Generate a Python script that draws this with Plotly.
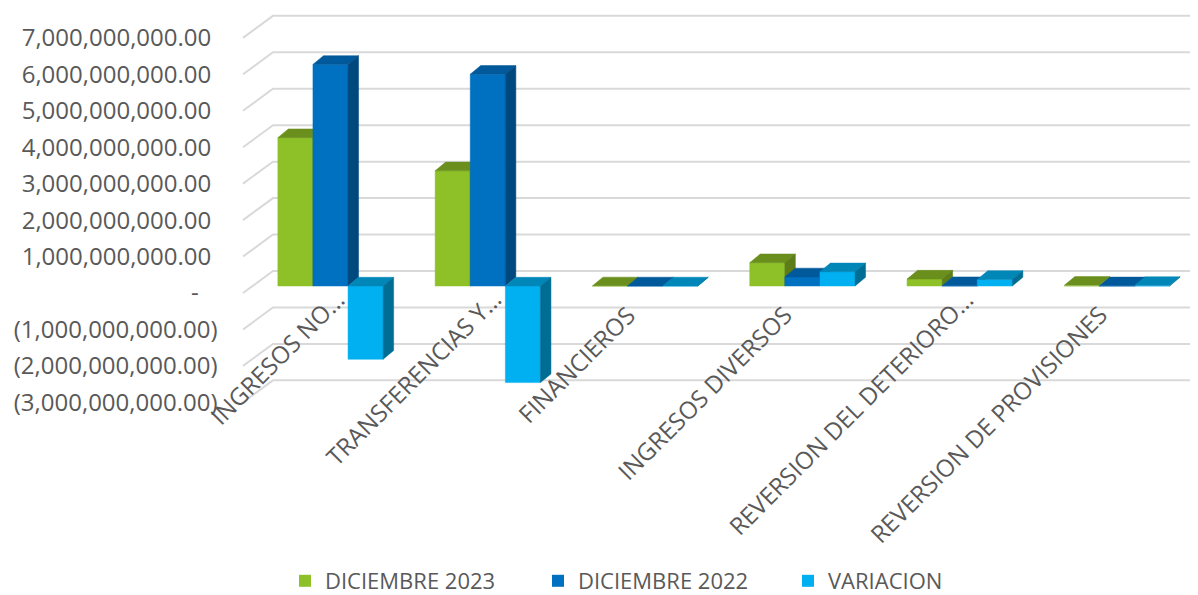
import plotly.graph_objects as go

# ---------------- data ----------------
categories = ["INGRESOS NO…", "TRANSFERENCIAS Y…", "FINANCIEROS",
              "INGRESOS DIVERSOS", "REVERSION DEL DETERIORO…", "REVERSION DE PROVISIONES"]
series_names = ["DICIEMBRE 2023", "DICIEMBRE 2022", "VARIACION"]
dic_2023 = [4.07e9, 3.16e9, 0.004e9, 0.64e9, 0.19e9, 0.02e9]
dic_2022 = [6.08e9, 5.81e9, 0.002e9, 0.25e9, 0.01e9, 0.005e9]
variacion = [-2.01e9, -2.65e9, 0.002e9, 0.39e9, 0.18e9, 0.015e9]
tick_values = [7e9, 6e9, 5e9, 4e9, 3e9, 2e9, 1e9, 0, -1e9, -2e9, -3e9]
tick_labels = ["7,000,000,000.00", "6,000,000,000.00", "5,000,000,000.00",
               "4,000,000,000.00", "3,000,000,000.00", "2,000,000,000.00",
               "1,000,000,000.00", "-", "(1,000,000,000.00)",
               "(2,000,000,000.00)", "(3,000,000,000.00)"]

# ---------------- styling / layout constants ----------------
VW, VH = 1198, 595          # browser viewport
OFF = 8                     # default body margin of the html page
W, H = VW - OFF, VH - OFF   # figure size so that the page fits the viewport
FONT = "Open Sans"
GRAY = "#595959"
colors = {
    "front": ["#8DC127", "#0070C0", "#00B0F0"],
    "top":   ["#6A8F1C", "#00599A", "#0087B8"],
    "side":  ["#5C7D17", "#00497E", "#006D95"],
}
# pixel geometry (screen pixels)
px_per_cat = 157.3
cat0_px = 330.5            # pixel x of first category center
px_per_unit_y = 36.45 / 1e9
bar_zero_px = 286.0        # bar front-face zero
front_zero_px = 293.0      # wall front edge zero
back_zero_px = 271.0       # back wall zero
depth_dx_px, depth_dy_px = 10.5, 8.7
bar_w_px = 35.1
wall_front_x_px, wall_back_x_px = 243.0, 273.0

def xd(px):  # screen pixel -> x data
    return (px - cat0_px) / px_per_cat

def yoff(px_delta):  # pixel delta (downwards positive) -> y data delta
    return -px_delta / px_per_unit_y

def paper_x(px):
    return (px - OFF) / W

def paper_y(py):
    return 1 - (py - OFF) / H

x_range = [xd(OFF), xd(VW)]
y_range = [(bar_zero_px - VH) / px_per_unit_y, (bar_zero_px - OFF) / px_per_unit_y]

fig = go.Figure()

# ---------------- back wall gridlines ----------------
gx, gy = [], []
back_shift = yoff(back_zero_px - bar_zero_px)
front_shift = yoff(front_zero_px - bar_zero_px)
for v in tick_values:
    gx += [xd(wall_front_x_px), xd(wall_back_x_px), xd(VW + 5), None]
    gy += [v + front_shift, v + back_shift, v + back_shift, None]
fig.add_trace(go.Scatter(x=gx, y=gy, mode="lines",
                         line=dict(color="#D9D9D9", width=2),
                         showlegend=False, hoverinfo="skip"))

# ---------------- 3D bars ----------------
bw = bar_w_px / px_per_cat
dx = depth_dx_px / px_per_cat
dy = depth_dy_px / px_per_unit_y
all_series = [dic_2023, dic_2022, variacion]
offsets = [-1.5 * bw, -0.5 * bw, 0.5 * bw]
for s, vals in enumerate(all_series):
    fx, fy, tx, ty, sx, sy = [], [], [], [], [], []
    for i, v in enumerate(vals):
        x0 = i + offsets[s]
        x1 = x0 + bw
        top = max(v, 0)
        bot = min(v, 0)
        fx += [x0, x1, x1, x0, x0, None]
        fy += [bot, bot, top, top, bot, None]
        tx += [x0, x1, x1 + dx, x0 + dx, x0, None]
        ty += [top, top, top + dy, top + dy, top, None]
        sx += [x1, x1 + dx, x1 + dx, x1, x1, None]
        sy += [bot, bot + dy, top + dy, top, bot, None]
    for xs, ys, key in [(fx, fy, "front"), (tx, ty, "top"), (sx, sy, "side")]:
        fig.add_trace(go.Scatter(x=xs, y=ys, mode="lines", fill="toself",
                                 fillcolor=colors[key][s],
                                 line=dict(width=0.5, color=colors[key][s]),
                                 showlegend=False, hoverinfo="skip"))

# ---------------- legends ----------------
legend_x_px = [285, 538, 788]
for s, name in enumerate(series_names):
    lg = "legend" if s == 0 else f"legend{s+1}"
    fig.add_trace(go.Scatter(x=[None], y=[None], mode="markers", name=name,
                             marker=dict(symbol="square", size=12, color=colors["front"][s]),
                             showlegend=True, legend=lg))
legend_common = dict(orientation="h", yanchor="middle", y=paper_y(581), xanchor="left",
                     font=dict(family=FONT, size=22, color=GRAY),
                     bgcolor="rgba(0,0,0,0)", borderwidth=0, itemwidth=30)
fig.update_layout(
    legend=dict(x=paper_x(legend_x_px[0]), **legend_common),
    legend2=dict(x=paper_x(legend_x_px[1]), **legend_common),
    legend3=dict(x=paper_x(legend_x_px[2]), **legend_common),
)

# ---------------- category labels ----------------
for i, c in enumerate(categories):
    truncated = c.endswith("…")
    fig.add_annotation(x=i, y=front_shift, xref="x", yref="y", text=c,
                       showarrow=False, textangle=-45, xanchor="right", yanchor="top",
                       xshift=23 if truncated else -1,
                       yshift=13 if truncated else -3,
                       font=dict(family=FONT, size=24, color=GRAY))

# ---------------- axes ----------------
def pad_label(t):
    if t == "-":
        return t + "\u00a0" * 3
    if t.startswith("("):
        return t
    return t + "\u00a0"

label_text = [pad_label(t) for t in tick_labels]
fig.update_layout(
    width=W, height=H,
    margin=dict(l=0, r=0, t=0, b=0, autoexpand=False),
    paper_bgcolor="white", plot_bgcolor="white",
    xaxis=dict(range=x_range, domain=[0, 1], visible=False, fixedrange=True),
    yaxis=dict(range=y_range, domain=[0, 1], anchor="free", position=paper_x(217.5),
               tickvals=[v + front_shift for v in tick_values], ticktext=label_text,
               showgrid=False, zeroline=False, showline=False, ticks="",
               automargin=False,
               tickfont=dict(family=FONT, size=24, color=GRAY)),
    showlegend=True,
)

fig.write_html("out.html")
